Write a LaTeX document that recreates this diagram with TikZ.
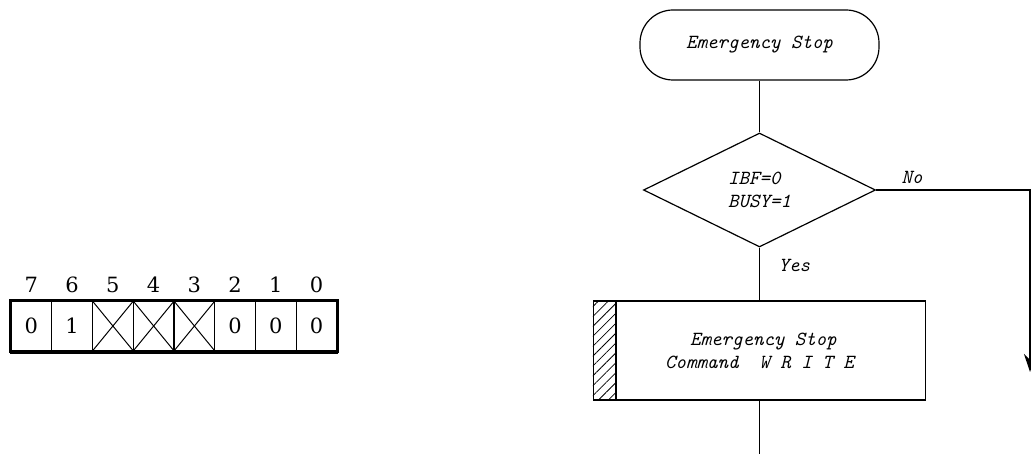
\documentclass[tikz,border=0pt]{standalone}
\usepackage{fontspec}
\newfontfamily\dvs{DejaVu Serif}
\usetikzlibrary{arrows.meta,patterns.meta,shapes.geometric}
\begin{document}
\begin{tikzpicture}[x=1pt,y=-1pt,
  flow/.style={draw, line width=1.2pt},
  ftxt/.style={font=\ttfamily\itshape\fontsize{20}{23}\selectfont},
  cell/.style={draw, line width=1.2pt, minimum width=40.75pt, minimum height=50pt, inner sep=0pt, font=\dvs\fontsize{21}{24}\selectfont},
  bitlbl/.style={font=\dvs\fontsize{21}{24}\selectfont, inner sep=0pt},
  conn/.style={line width=1.2pt}
]
\useasboundingbox (0,0) rectangle (1031,454);
% register
\foreach \b/\v [count=\i from 0] in {7/0,6/1,5/,4/,3/,2/0,1/0,0/0}{
  \node[cell] (c\b) at ({31.4+40.75*\i},326) {\v};
  \node[bitlbl] (l\b) at ({31.4+40.75*\i},285) {\b};
}
\foreach \b in {5,4,3}{
  \draw[line width=1pt] (c\b.north west) -- (c\b.south east);
  \draw[line width=1pt] (c\b.south west) -- (c\b.north east);
}
\draw[line width=2.6pt] (c7.north west) rectangle (c0.south east);
\draw[line width=4pt] (c7.south west) -- (c0.south east);
% flowchart
\node[flow, ftxt, rounded corners=33pt, minimum width=239pt, minimum height=70pt] (start) at (759.5,45) {Emergency Stop};
\node[flow, ftxt, diamond, minimum width=232pt, minimum height=114pt, inner sep=0pt, align=left] (dec) at (759.5,190) {IBF=0\\BUSY=1};
\node[flow, ftxt, minimum width=332pt, minimum height=99pt, align=center] (write) at (759.5,350.5) {\hspace*{8pt}Emergency Stop\\Command\ \ W R I T E};
\fill[pattern={Lines[angle=45,distance=7pt,line width=0.8pt]}] (write.north west) rectangle ([xshift=23pt]write.south west);
\draw[line width=1.2pt] ([xshift=23pt]write.north west) -- ([xshift=23pt]write.south west);
\coordinate (end) at (759.5,454);
\coordinate (rt) at (1030,190);
\coordinate (rb) at (1030,372);
\draw[conn] (start.south) -- (dec.north);
\draw[conn] (dec.south) -- (write.north);
\draw[conn] (write.south) -- (end);
\draw[conn, -{Stealth[length=18pt,width=12pt]}] (dec.east) -- (rt) -- (rb);
\node[ftxt, anchor=west] (no) at (898,177) {No};
\node[ftxt, anchor=west] (yes) at (775,265) {Yes};
\end{tikzpicture}
\end{document}
